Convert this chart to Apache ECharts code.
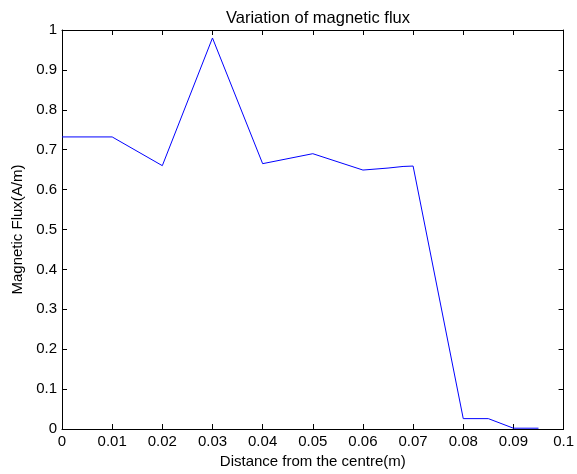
<!DOCTYPE html>
<html>
<head>
<meta charset="utf-8">
<script src="https://cdn.jsdelivr.net/npm/echarts@6/dist/echarts.min.js"></script>
<style>
  html, body { margin: 0; padding: 0; background: #fff; }
  #chart { width: 577px; height: 474px; }
</style>
</head>
<body>
<div id="chart"></div>
<script>
// values
const distance = [0, 0.01, 0.02, 0.03, 0.04, 0.05, 0.06, 0.065, 0.068, 0.07, 0.08, 0.085, 0.09, 0.095]
const flux = [0.732, 0.732, 0.66, 0.98, 0.665, 0.69, 0.649, 0.654, 0.658, 0.659, 0.026, 0.026, 0.002, 0.002]

const font = 'Liberation Sans, Arial, sans-serif'
const fmt = (v) => String(+v.toFixed(2))

const chart = echarts.init(document.getElementById('chart'))

const tickStyle = { show: true, inside: true, length: 5, lineStyle: { color: '#000', width: 1 } }
const lineStyle = { show: true, onZero: false, lineStyle: { color: '#000', width: 1 } }

chart.setOption({
  animation: false,
  backgroundColor: '#fff',
  title: {
    text: 'Variation of magnetic flux',
    left: 313,
    textAlign: 'center',
    top: 5,
    textStyle: { fontFamily: font, fontSize: 16.5, fontWeight: 'normal', color: '#000' }
  },
  grid: { left: 62, right: 9, top: 30, bottom: 44, containLabel: false },
  xAxis: [
    {
      type: 'value', position: 'bottom', min: 0, max: 0.1, interval: 0.01,
      name: 'Distance from the centre(m)', nameLocation: 'middle', nameGap: 25,
      nameTextStyle: { fontFamily: font, fontSize: 15, color: '#000' },
      axisLine: lineStyle, axisTick: tickStyle, splitLine: { show: false },
      axisLabel: { fontFamily: font, fontSize: 15, color: '#000', margin: 5, formatter: fmt }
    },
    {
      type: 'value', position: 'top', min: 0, max: 0.1, interval: 0.01,
      axisLine: lineStyle, axisTick: tickStyle, splitLine: { show: false },
      axisLabel: { show: false }
    }
  ],
  yAxis: [
    {
      type: 'value', position: 'left', min: 0, max: 1, interval: 0.1,
      name: 'Magnetic Flux(A/m)', nameLocation: 'middle', nameGap: 37,
      nameTextStyle: { fontFamily: font, fontSize: 15, color: '#000' },
      axisLine: lineStyle, axisTick: tickStyle, splitLine: { show: false },
      axisLabel: { fontFamily: font, fontSize: 15, color: '#000', margin: 5, formatter: fmt }
    },
    {
      type: 'value', position: 'right', min: 0, max: 1, interval: 0.1,
      axisLine: lineStyle, axisTick: tickStyle, splitLine: { show: false },
      axisLabel: { show: false }
    }
  ],
  series: [
    {
      type: 'line',
      data: distance.map((d, i) => [d, flux[i]]),
      showSymbol: false,
      lineStyle: { color: '#0000ff', width: 1 },
      itemStyle: { color: '#0000ff' }
    }
  ]
})
</script>
</body>
</html>
